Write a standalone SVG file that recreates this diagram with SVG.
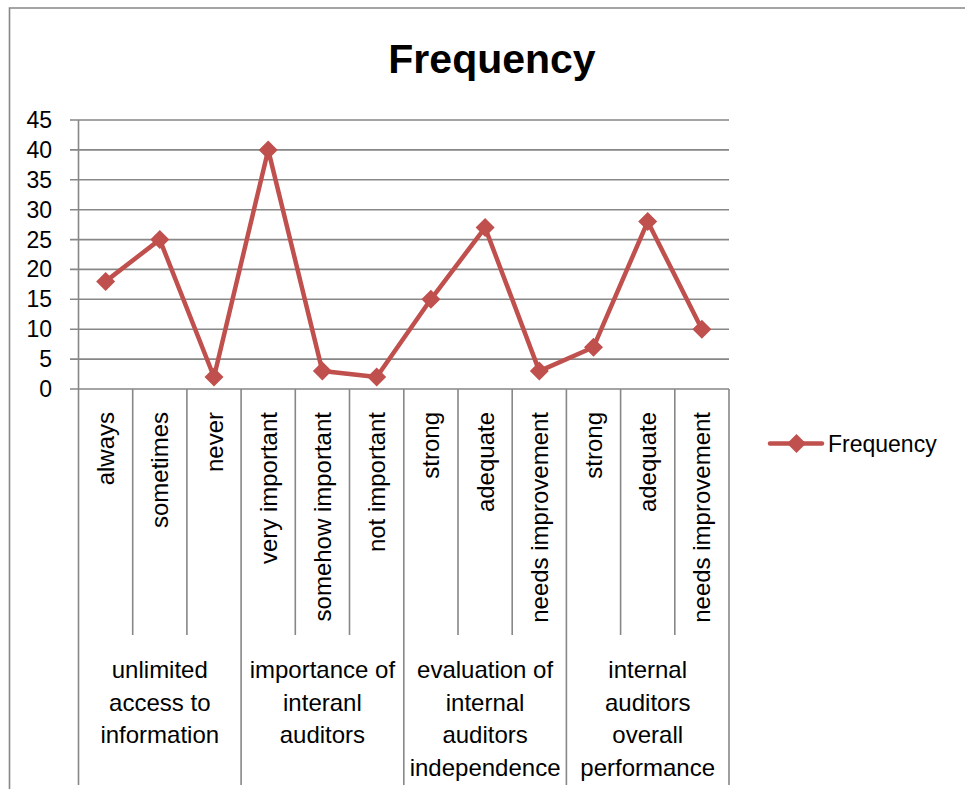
<svg xmlns="http://www.w3.org/2000/svg" width="965" height="789" viewBox="0 0 965 789">
<style>
.g{stroke:#878787;stroke-width:1.6;fill:none}
.t{font-family:"Liberation Sans",Arial,sans-serif;fill:#000}
.tick{font-size:23px;text-anchor:end}
.cat{font-size:24px;text-anchor:end}
.grp{font-size:24px;text-anchor:middle}
.ser{stroke:#C0504D;stroke-width:4.5;fill:none;stroke-linejoin:round;stroke-linecap:round}
.mk{fill:#C0504D}
</style>
<defs>
<path id="dia" d="M0,-9.5 L9.5,0 L0,9.5 L-9.5,0 Z"/>
</defs>
<rect width="965" height="789" fill="#fff"/>
<g id="frame"><path class="g" d="M9.5,789 V8 H965"/></g>
<g id="title"><text class="t" x="492" y="73" font-size="41" font-weight="bold" text-anchor="middle">Frequency</text></g>
<g id="grid">
<path class="g" d="M70,120H729M70,149.9H729M70,179.8H729M70,209.7H729M70,239.6H729M70,269.4H729M70,299.3H729M70,329.2H729M70,359.1H729M70,389H729"/>
<path class="g" d="M78.5,120V785M241.1,389V785M403.8,389V785M566.4,389V785M729,389V785"/>
<path class="g" d="M132.7,389V635M186.9,389V635M295.3,389V635M349.5,389V635M458,389V635M512.2,389V635M620.6,389V635M674.8,389V635"/>
</g>
<g id="yaxis" class="t tick">
<text x="52" y="128">45</text>
<text x="52" y="158">40</text>
<text x="52" y="188">35</text>
<text x="52" y="218">30</text>
<text x="52" y="248">25</text>
<text x="52" y="277">20</text>
<text x="52" y="307">15</text>
<text x="52" y="337">10</text>
<text x="52" y="367">5</text>
<text x="52" y="397">0</text>
</g>
<g id="categories" class="t cat">
<text transform="translate(114,412) rotate(-90)">always</text>
<text transform="translate(168.3,412) rotate(-90)">sometimes</text>
<text transform="translate(222.5,412) rotate(-90)">never</text>
<text transform="translate(276.7,412) rotate(-90)">very important</text>
<text transform="translate(330.9,412) rotate(-90)">somehow important</text>
<text transform="translate(385.2,412) rotate(-90)">not important</text>
<text transform="translate(439.4,412) rotate(-90)">strong</text>
<text transform="translate(493.6,412) rotate(-90)">adequate</text>
<text transform="translate(547.8,412) rotate(-90)">needs improvement</text>
<text transform="translate(602,412) rotate(-90)">strong</text>
<text transform="translate(656.2,412) rotate(-90)">adequate</text>
<text transform="translate(710.4,412) rotate(-90)">needs improvement</text>
</g>
<g id="groups" class="t grp">
<text x="159.8" y="678">unlimited</text>
<text x="159.8" y="710.5">access to</text>
<text x="159.8" y="743">information</text>
<text x="322.4" y="678">importance of</text>
<text x="322.4" y="710.5">interanl</text>
<text x="322.4" y="743">auditors</text>
<text x="485.1" y="678">evaluation of</text>
<text x="485.1" y="710.5">internal</text>
<text x="485.1" y="743">auditors</text>
<text x="485.1" y="775.5">independence</text>
<text x="647.7" y="678">internal</text>
<text x="647.7" y="710.5">auditors</text>
<text x="647.7" y="743">overall</text>
<text x="647.7" y="775.5">performance</text>
</g>
<g id="series">
<polyline class="ser" points="105.6,281.4 159.8,239.6 214,377 268.2,149.9 322.4,371.1 376.7,377 430.9,299.3 485.1,227.6 539.3,371.1 593.5,347.2 647.7,221.6 701.9,329.2"/>
<g class="mk">
<use href="#dia" x="105.6" y="281.4"/>
<use href="#dia" x="159.8" y="239.6"/>
<use href="#dia" x="214" y="377"/>
<use href="#dia" x="268.2" y="149.9"/>
<use href="#dia" x="322.4" y="371.1"/>
<use href="#dia" x="376.7" y="377"/>
<use href="#dia" x="430.9" y="299.3"/>
<use href="#dia" x="485.1" y="227.6"/>
<use href="#dia" x="539.3" y="371.1"/>
<use href="#dia" x="593.5" y="347.2"/>
<use href="#dia" x="647.7" y="221.6"/>
<use href="#dia" x="701.9" y="329.2"/>
</g>
</g>
<g id="legend">
<line class="ser" x1="770" y1="443.5" x2="822" y2="443.5"/>
<use class="mk" href="#dia" x="796.5" y="443.5"/>
<text class="t" x="828" y="452" font-size="23">Frequency</text>
</g>
</svg>
